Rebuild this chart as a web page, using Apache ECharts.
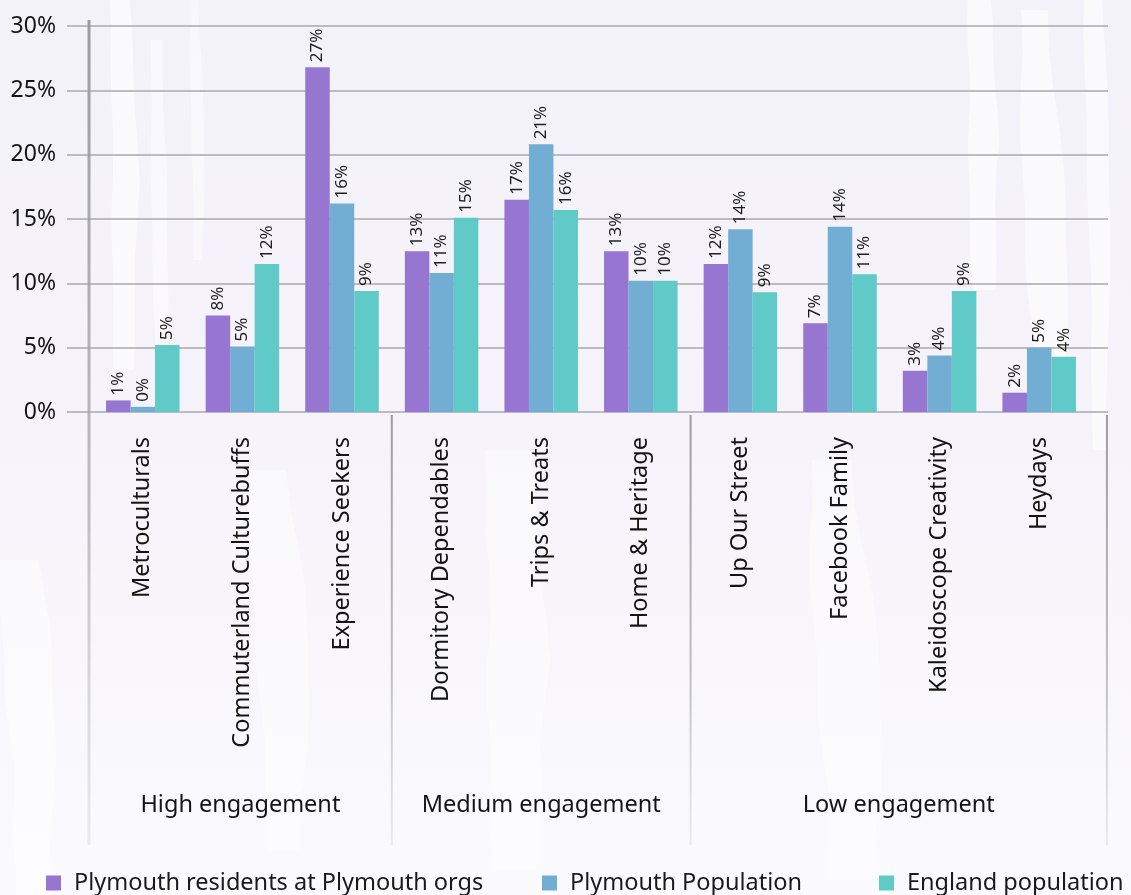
<!DOCTYPE html>
<html>
<head>
<meta charset="utf-8">
<title>Audience Spectrum segments – Plymouth</title>
<script src="https://cdn.jsdelivr.net/npm/echarts@6/dist/echarts.min.js"></script>
<style>
  html, body { margin: 0; padding: 0; background: #f6f4fa; }
  #chart { width: 1131px; height: 895px; }
</style>
</head>
<body>
<div id="chart"></div>
<script>
// Audience Spectrum segments, grouped by level of cultural engagement
const categories = [
  'Metroculturals', 'Commuterland Culturebuffs', 'Experience Seekers',
  'Dormitory Dependables', 'Trips & Treats', 'Home & Heritage',
  'Up Our Street', 'Facebook Family', 'Kaleidoscope Creativity', 'Heydays'
];
const seriesNames = ['Plymouth residents at Plymouth orgs', 'Plymouth Population', 'England population'];

// share of each segment, in percent
const plymouthOrgs   = [0.9, 7.5, 26.8, 12.5, 16.5, 12.5, 11.5, 6.9, 3.2, 1.5];
const plymouthPop    = [0.4, 5.1, 16.2, 10.8, 20.8, 10.2, 14.2, 14.4, 4.4, 5.0];
const englandPop     = [5.2, 11.5, 9.4, 15.1, 15.7, 10.2, 9.3, 10.7, 9.4, 4.3];

// engagement groups: label and index range of categories
const groupLabels = ['High engagement', 'Medium engagement', 'Low engagement'];
const groupStarts = [0, 3, 6];
const groupEnds   = [2, 5, 9];

const yTicks = [0, 5, 10, 15, 20, 25, 30];

const colors = ['#9676d1', '#72add3', '#5fcac8'];
const FONT = '"Noto Sans", "Liberation Sans", sans-serif';

const chart = echarts.init(document.getElementById('chart'), null, { renderer: 'canvas' });

const GRID_TOP = 26, GRID_BOTTOM = 483;

function barSeries(name, data, color) {
  return {
    name: name,
    type: 'bar',
    xAxisIndex: 1,
    yAxisIndex: 1,
    data: data,
    barWidth: 24.5,
    barGap: '0%',
    itemStyle: { color: color },
    label: {
      show: true,
      position: 'top',
      rotate: 90,
      align: 'left',
      verticalAlign: 'middle',
      distance: 5,
      fontFamily: FONT,
      fontSize: 17,
      color: '#1e1e1e',
      formatter: p => Math.round(p.value) + '%'
    }
  };
}

function legendAt(left, name) {
  return {
    left: left,
    top: 864,
    data: [name],
    itemWidth: 15,
    itemHeight: 15,
    icon: 'rect',
    selectedMode: false,
    textStyle: { fontFamily: FONT, fontSize: 23.5, lineHeight: 28, color: '#1a1a1a', padding: [0, 0, 0, 8] }
  };
}

// painted-paper texture: faint, mostly straight vertical streaks behind the chart
function brushStroke(x, y, w, h, phase, fill) {
  const pts = [];
  const steps = 10;
  for (let i = 0; i <= steps; i++) {
    const t = i / steps;
    const j = Math.sin(phase + t * 5.1) * w * 0.07 + Math.sin(phase * 2.3 + t * 17) * w * 0.04;
    pts.push([x + j + t * w * 0.3, y + t * h]);
  }
  for (let i = steps; i >= 0; i--) {
    const t = i / steps;
    const taper = 1 - 0.5 * Math.abs(t - 0.5);
    const j = Math.sin(phase * 1.7 + t * 4.3) * w * 0.07 + Math.sin(phase + t * 15) * w * 0.04;
    pts.push([x + w * taper + j + t * w * 0.3, y + t * h]);
  }
  return { type: 'polygon', z: -10, silent: true, shape: { points: pts }, style: { fill: fill } };
}

const textureStrokes = [
  [108, -10, 26, 380, 0.3, 'rgba(255,255,255,0.55)'],
  [150, 40, 16, 320, 1.9, 'rgba(255,255,255,0.45)'],
  [190, 0, 12, 260, 3.1, 'rgba(255,255,255,0.4)'],
  [965, -10, 30, 300, 0.9, 'rgba(255,255,255,0.55)'],
  [1020, 10, 40, 400, 2.7, 'rgba(255,255,255,0.5)'],
  [1085, -10, 22, 460, 4.1, 'rgba(255,255,255,0.5)'],
  [250, 470, 50, 380, 3.6, 'rgba(255,255,255,0.4)'],
  [480, 450, 60, 420, 0.7, 'rgba(255,255,255,0.4)'],
  [810, 460, 60, 420, 2.9, 'rgba(255,255,255,0.4)'],
  [0, 560, 50, 340, 4.4, 'rgba(255,255,255,0.45)']
];

const option = {
  backgroundColor: {
    type: 'linear', x: 0, y: 0, x2: 0, y2: 1,
    colorStops: [
      { offset: 0, color: '#f4f2f9' },
      { offset: 0.5, color: '#f6f4fa' },
      { offset: 1, color: '#fbfafd' }
    ]
  },
  animation: false,
  legend: [
    legendAt(41, seriesNames[0]),
    legendAt(537, seriesNames[1]),
    legendAt(874, seriesNames[2])
  ],
  grid: [
    // value gridlines and y labels
    { left: 67, right: 23, top: GRID_TOP, bottom: GRID_BOTTOM },
    // bars
    { left: 93, right: 42, top: GRID_TOP, bottom: GRID_BOTTOM }
  ],
  xAxis: [
    { type: 'value', gridIndex: 0, show: false, min: 0, max: 1 },
    {
      type: 'category',
      gridIndex: 1,
      data: categories,
      axisLine: { show: false },
      axisTick: { show: false },
      axisLabel: {
        rotate: 90,
        interval: 0,
        margin: 25,
        fontFamily: FONT,
        fontSize: 23.5,
        color: '#141414'
      }
    }
  ],
  yAxis: [
    {
      type: 'value',
      gridIndex: 0,
      min: yTicks[0],
      max: yTicks[yTicks.length - 1],
      interval: yTicks[1] - yTicks[0],
      axisLine: { show: false },
      axisTick: { show: false },
      splitLine: { lineStyle: { color: '#a9a9ad', width: 1.5 } },
      axisLabel: {
        formatter: '{value}%',
        margin: 11,
        fontFamily: FONT,
        fontSize: 23,
        color: '#141414',
        verticalAlign: 'middle',
        padding: [0, 0, 13, 0]
      }
    },
    {
      type: 'value',
      gridIndex: 1,
      min: yTicks[0],
      max: yTicks[yTicks.length - 1],
      show: false
    }
  ],
  series: [
    barSeries(seriesNames[0], plymouthOrgs, colors[0]),
    barSeries(seriesNames[1], plymouthPop, colors[1]),
    barSeries(seriesNames[2], englandPop, colors[2])
  ]
};

chart.setOption(option);

// group separators and engagement labels below the category names
function drawGroups() {
  const px = i => chart.convertToPixel({ xAxisIndex: 1 }, i);
  const band = px(1) - px(0);
  const zeroY = chart.convertToPixel({ yAxisIndex: 0 }, 0);
  const topY = chart.convertToPixel({ yAxisIndex: 0 }, yTicks[yTicks.length - 1]);
  const bottomY = 845;

  const sepX = [];
  sepX.push(px(0) - band * 0.54);
  for (let g = 1; g < groupStarts.length; g++) {
    sepX.push((px(groupEnds[g - 1]) + px(groupStarts[g])) / 2);
  }
  sepX.push(px(categories.length - 1) + band * 0.68);

  const elements = textureStrokes.map(s => brushStroke(...s));
  sepX.forEach((x, k) => {
    elements.push({
      type: 'line',
      z: 1,
      shape: { x1: x, y1: k === 0 ? topY - 6 : zeroY + 3, x2: x, y2: bottomY },
      style: {
        lineWidth: k === 0 ? 3 : 2,
        stroke: {
          type: 'linear', x: 0, y: 0, x2: 0, y2: 1,
          colorStops: [
            { offset: 0, color: 'rgba(150,150,155,0.95)' },
            { offset: 0.6, color: 'rgba(165,165,170,0.7)' },
            { offset: 1, color: 'rgba(190,190,195,0.25)' }
          ]
        }
      }
    });
  });

  groupLabels.forEach((txt, g) => {
    elements.push({
      type: 'text',
      z: 2,
      x: (sepX[g] + sepX[g + 1]) / 2,
      y: 805,
      style: {
        text: txt,
        fontFamily: FONT,
        fontSize: 23.5,
        fill: '#141414',
        align: 'center',
        verticalAlign: 'middle'
      }
    });
  });

  chart.setOption({ graphic: { elements: elements } });
}
drawGroups();
</script>
</body>
</html>
